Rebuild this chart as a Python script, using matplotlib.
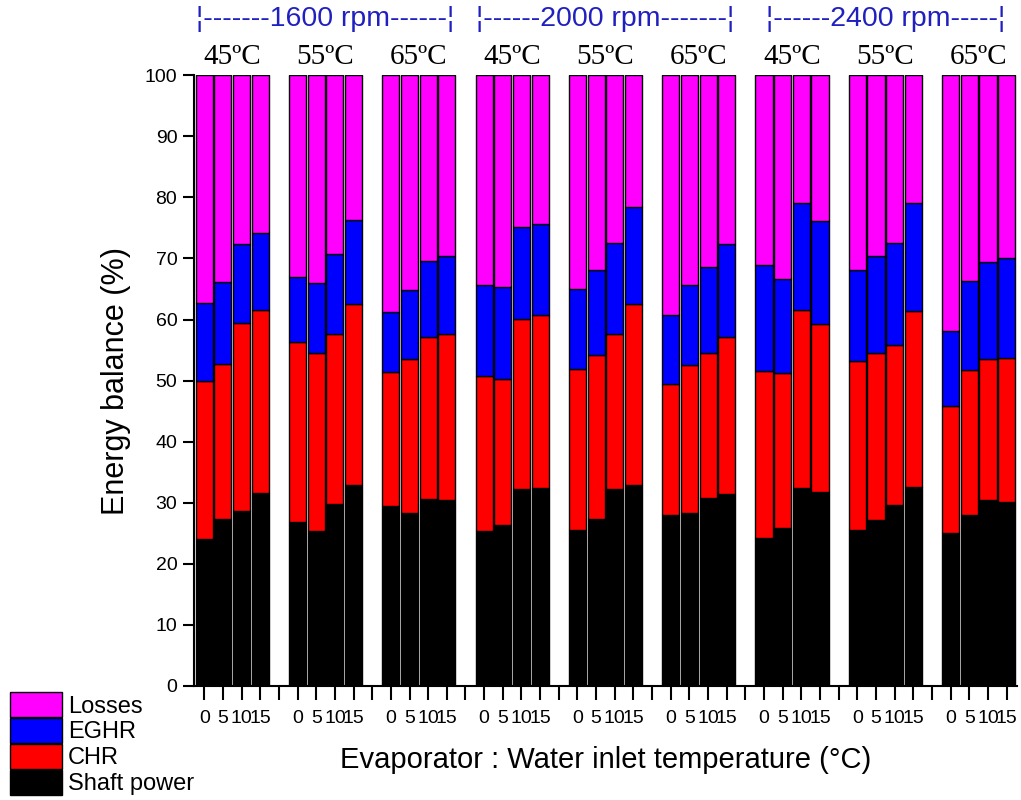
import numpy as np
import matplotlib
matplotlib.use("Agg")
import matplotlib.pyplot as plt
from matplotlib.patches import Patch

# engine speeds, cooling water temps and evaporator water inlet temps
speeds = ["1600 rpm", "2000 rpm", "2400 rpm"]
temps = ["45ºC", "55ºC", "65ºC"]
evap_labels = ["0", "5", "10", "15"]

# energy balance components (%) per group of 4 bars
shaft = [[24.0, 27.3, 28.6, 31.6], [26.8, 25.3, 29.8, 32.9], [29.5, 28.4, 30.6, 30.4],
         [25.3, 26.4, 32.2, 32.4], [25.5, 27.3, 32.2, 32.9], [28.0, 28.3, 30.7, 31.5],
         [24.3, 25.8, 32.4, 31.8], [25.5, 27.1, 29.6, 32.6], [25.0, 28.0, 30.4, 30.1]]
chr_ = [[26.0, 25.4, 30.8, 29.9], [29.5, 29.3, 27.8, 29.6], [21.9, 25.2, 26.6, 27.2],
        [25.5, 23.8, 27.9, 28.4], [26.4, 26.9, 25.4, 29.6], [21.4, 24.2, 23.9, 25.7],
        [27.3, 25.4, 29.1, 27.4], [27.7, 27.5, 26.3, 28.8], [20.9, 23.7, 23.1, 23.6]]
eghr = [[12.7, 13.4, 13.0, 12.6], [10.6, 11.3, 13.1, 13.8], [9.8, 11.3, 12.4, 12.8],
        [14.8, 15.1, 15.1, 14.9], [13.1, 13.9, 15.0, 16.0], [11.3, 13.2, 14.0, 15.1],
        [17.3, 15.5, 17.5, 17.0], [14.9, 15.8, 16.7, 17.6], [12.2, 14.6, 15.9, 16.4]]
losses = [[37.3, 33.9, 27.6, 25.9], [33.1, 34.1, 29.3, 23.7], [38.8, 35.1, 30.4, 29.6],
          [34.4, 34.7, 24.8, 24.3], [35.0, 31.9, 27.4, 21.5], [39.3, 34.3, 31.4, 27.7],
          [31.1, 33.3, 21.0, 23.8], [31.9, 29.6, 27.4, 21.0], [41.9, 33.7, 30.6, 29.9]]

n_groups = len(shaft)
n_bars = len(evap_labels)
step = n_bars + 1

fig = plt.figure(figsize=(10.21, 8), dpi=100)
ax = fig.add_axes([0.19, 0.1425, 0.806, 0.7635])

x = np.array([g * step + b + 1 for g in range(n_groups) for b in range(n_bars)])
s = np.array(shaft).ravel()
c = np.array(chr_).ravel()
e = np.array(eghr).ravel()
l = np.array(losses).ravel()

w = 0.92
kw = dict(width=w, edgecolor="black", linewidth=1)
ax.bar(x, s, color="black", **kw)
ax.bar(x, c, bottom=s, color="#ff0000", **kw)
ax.bar(x, e, bottom=s + c, color="#0000ff", **kw)
ax.bar(x, l, bottom=s + c + e, color="#ff00ff", **kw)

ax.set_ylim(0, 100)
ax.set_xlim(0.45, n_groups * step - 0.45)
ax.set_yticks(np.arange(0, 101, 10))
ticks = np.arange(1, n_groups * step)
ax.set_xticks(ticks)
ax.set_xticklabels(["" if t % step == 0 else evap_labels[t % step - 1] for t in ticks])

for side in ["top", "right"]:
    ax.spines[side].set_visible(False)
ax.spines["left"].set_linewidth(1.5)
ax.spines["bottom"].set_linewidth(1.5)
ax.tick_params(axis="y", direction="out", length=8, width=1.5, labelsize=14, pad=4)
ax.tick_params(axis="x", direction="out", length=10, width=1.5, labelsize=14, pad=7)
for lab in ax.get_xticklabels() + ax.get_yticklabels():
    lab.set_fontfamily("Liberation Sans")

ax.set_ylabel("Energy balance (%)", fontsize=22, family="Liberation Sans", labelpad=10)
ax.set_xlabel("Evaporator : Water inlet temperature (°C)", fontsize=21,
              family="Liberation Sans", labelpad=14)

# temperature labels above each group
for g in range(n_groups):
    cx = g * step + (n_bars + 1) / 2
    ax.text(cx, 100.8, temps[g % 3], ha="center", va="bottom", fontsize=21,
            family="Liberation Serif", clip_on=False)

# speed labels above each set of three groups
rpm_text = ["¦-------1600 rpm------¦", "¦------2000 rpm-------¦", "¦------2400 rpm-----¦"]
for k, sp in enumerate(speeds):
    cx = (k * 3 * step + (k * 3 + 3) * step) / 2
    ax.text(cx, 107.0, rpm_text[k], ha="center", va="bottom", fontsize=20.5,
            family="Liberation Sans", color="#2020c0", clip_on=False)

handles = [Patch(facecolor="#ff00ff", edgecolor="black"),
           Patch(facecolor="#0000ff", edgecolor="black"),
           Patch(facecolor="#ff0000", edgecolor="black"),
           Patch(facecolor="black", edgecolor="black")]
fig.legend(handles, ["Losses", "EGHR", "CHR", "Shaft power"], loc="lower left",
           bbox_to_anchor=(0.005, 0.0), frameon=False, prop={"family": "Liberation Sans", "size": 17},
           handlelength=2.2, handleheight=1.25, labelspacing=0.02, handletextpad=0.25,
           borderpad=0.1, borderaxespad=0.1)

fig.savefig("out.png", dpi=100)
